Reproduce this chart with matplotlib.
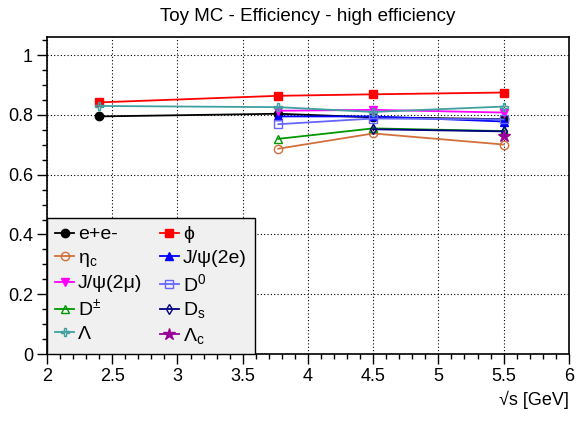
import matplotlib
matplotlib.use("Agg")
import matplotlib.pyplot as plt
from matplotlib.ticker import MultipleLocator

plt.rcParams['font.family'] = ['Liberation Sans', 'DejaVu Sans']
plt.rcParams['mathtext.fontset'] = 'custom'
plt.rcParams['mathtext.rm'] = 'Liberation Sans'
plt.rcParams['mathtext.it'] = 'Liberation Sans'
plt.rcParams['mathtext.default'] = 'regular'

# sqrt(s) points per channel and efficiencies
x_all = [2.4, 3.773, 4.5, 5.5]
x_charm = [3.773, 4.5, 5.5]
x_ds = [4.5, 5.5]
x_lc = [5.5]

eff_ee = [0.795, 0.804, 0.792, 0.786]
eff_phi = [0.842, 0.864, 0.869, 0.875]
eff_etac = [0.687, 0.738, 0.701]
eff_jpsi_e = [0.795, 0.795, 0.778]
eff_jpsi_mu = [0.814, 0.817, 0.808]
eff_d0 = [0.769, 0.788, 0.785]
eff_dpm = [0.720, 0.755, 0.746]
eff_ds = [0.752, 0.745]
eff_lambda = [0.830, 0.826, 0.810, 0.828]
eff_lc = [0.729]

series = [
    ("e+e-", x_all, eff_ee, '#000000', 'o', True),
    ("ϕ", x_all, eff_phi, '#ff0000', 's', True),
    ("η$_c$", x_charm, eff_etac, '#d2703c', 'o', False),
    ("J/ψ(2e)", x_charm, eff_jpsi_e, '#0000ff', '^', True),
    ("J/ψ(2μ)", x_charm, eff_jpsi_mu, '#ff00ff', 'v', True),
    ("D$^0$", x_charm, eff_d0, '#6666ff', 's', False),
    ("D$^{\\pm}$", x_charm, eff_dpm, '#009900', '^', False),
    ("D$_s$", x_ds, eff_ds, '#000080', 'd', False),
    ("Λ", x_all, eff_lambda, '#40a0a0', 'P', False),
    ("Λ$_c$", x_lc, eff_lc, '#990099', '*', True),
]

fig = plt.figure(figsize=(5.76, 4.23), dpi=100)
ax = fig.add_axes([0.0816, 0.163, 0.906, 0.749])

handles = []
for label, xs, ys, col, mk, filled in series:
    ms = {'*': 9, 'd': 5}.get(mk, 6)
    h, = ax.plot(xs, ys, color=col, marker=mk, markersize=ms, lw=1.3,
                 markerfacecolor=col if filled else 'none',
                 markeredgecolor=col, markeredgewidth=1.0, label=label)
    handles.append(h)

ax.set_xlim(2, 6)
ax.set_ylim(0, 1.06)
ax.xaxis.set_minor_locator(MultipleLocator(0.1))
ax.yaxis.set_minor_locator(MultipleLocator(0.05))
ax.set_xticks([2, 2.5, 3, 3.5, 4, 4.5, 5, 5.5, 6])
ax.set_xticklabels(['2', '2.5', '3', '3.5', '4', '4.5', '5', '5.5', '6'])
ax.set_yticks([0, 0.2, 0.4, 0.6, 0.8, 1.0])
ax.set_yticklabels(['0', '0.2', '0.4', '0.6', '0.8', '1'])
ax.tick_params(which='major', direction='out', length=7, width=1, labelsize=13, pad=3)
ax.tick_params(which='minor', direction='out', length=3.5, width=1)
ax.grid(True, which='major', color='black', linestyle=(0, (1, 2)), linewidth=0.8)
for s in ax.spines.values():
    s.set_linewidth(1.2)

ax.set_title("Toy MC - Efficiency - high efficiency", fontsize=13.5, pad=12)
ax.set_xlabel("√s [GeV]", fontsize=13, loc='right', labelpad=4)

# two columns, filled row by row like the reference
order = [0, 2, 4, 6, 8, 1, 3, 5, 7, 9]
leg = ax.legend([handles[i] for i in order], [series[i][0] for i in order],
                ncol=2, loc='lower left', bbox_to_anchor=(0, 0, 0.398, 0.43),
                mode='expand', borderaxespad=0, fancybox=False, framealpha=1,
                facecolor='#f0f0f0', edgecolor='black', fontsize=14,
                handlelength=1.0, handletextpad=0.2, labelspacing=0.3,
                borderpad=0.4, columnspacing=0.4)
leg.get_frame().set_linewidth(1.0)

fig.savefig("out.png", dpi=100)
